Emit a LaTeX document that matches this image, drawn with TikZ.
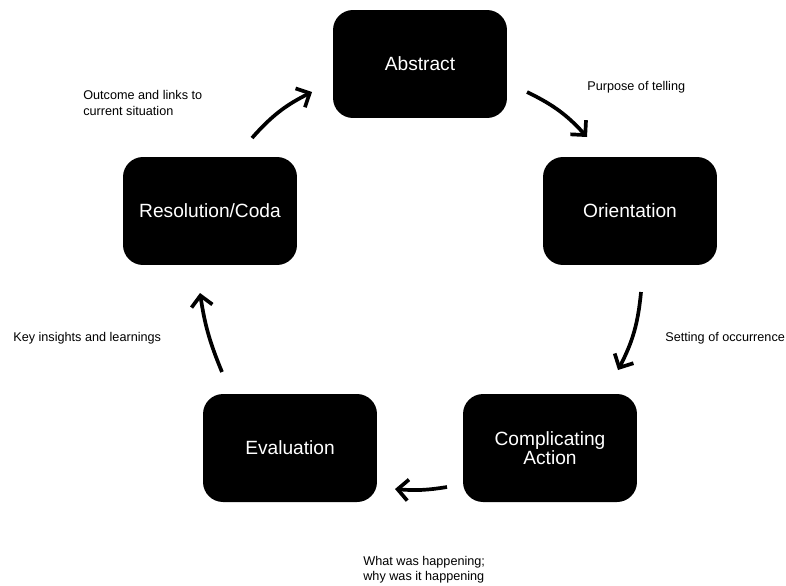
\documentclass[tikz,border=0pt]{standalone}
\usepackage{fontspec}
\setmainfont{Liberation Sans}
\usetikzlibrary{arrows.meta}

\begin{document}
\begin{tikzpicture}[x=0.02cm,y=-0.02cm,
box/.style={fill=black,text=white,rounded corners=0.4cm,minimum width=3.48cm,minimum height=2.16cm,align=center,font=\fontsize{10.9}{11.2}\selectfont},
note/.style={anchor=west,align=left,inner sep=0pt,font=\fontsize{7.2}{8.6}\selectfont},
flow/.style={line width=2.1pt,-{Straight Barb[length=6pt,width=12pt]},bend left=11}]
\useasboundingbox (0,0) rectangle (786,585);

% the five parts
\foreach\nm/\x/\y/\txt in{abs/420/64/Abstract,ori/630/211/Orientation,comp/550/448/{Complicating\\Action},eval/290/448/Evaluation,res/210/211/{Resolution/Coda}}{\node[box](\nm) at(\x,\y){\txt};};

% arrow ends
\coordinate(ra) at(252,138); \coordinate(ar) at(312,92);
\coordinate(ao) at(527,92); \coordinate(oa) at(587,137);
\coordinate(oc) at(641,292); \coordinate(co) at(618,370);
\coordinate(ce) at(447,487); \coordinate(ec) at(395,489);
\coordinate(er) at(222,372); \coordinate(re) at(200,293);

\draw[flow](ra) to (ar);
\draw[flow](ao) to (oa);
\draw[flow](oc) to (co);
\draw[flow,bend left=7](ce) to (ec);
\draw[flow,bend left=7](er) to (re);

% labels
\node[note](purpose) at(587,87){Purpose of telling};
\node[note](setting) at(665,338){Setting of occurrence};
\node[note](happening) at(363,570){What was happening;\\why was it happening};
\node[note](insights) at(13,338){Key insights and learnings};
\node[note](outcome) at(83,103){Outcome and links to\\current situation};
\end{tikzpicture}
\end{document}
